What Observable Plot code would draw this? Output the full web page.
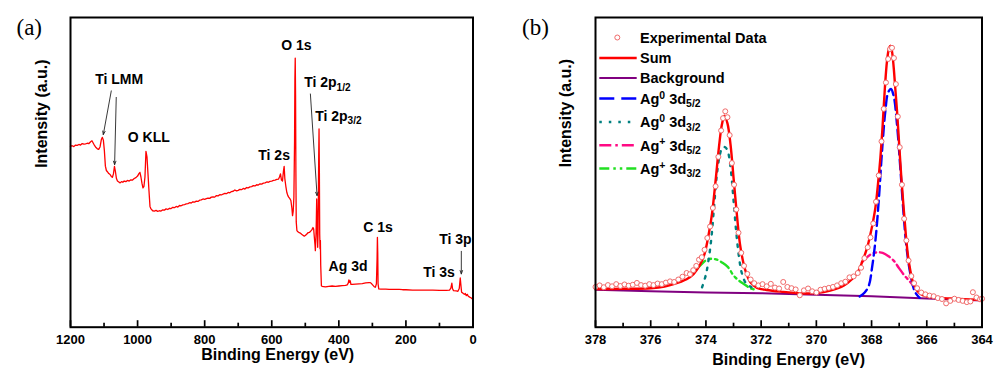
<!DOCTYPE html>
<html>
<head>
<meta charset="utf-8">
<script src="https://cdn.jsdelivr.net/npm/d3@7"></script>
<script src="https://cdn.jsdelivr.net/npm/@observablehq/plot@0.6"></script>
<style>
html, body { margin: 0; padding: 0; background: #fff; }
#wrap { position: relative; width: 1000px; height: 372px; overflow: hidden; }
#wrap > svg { position: absolute; top: 0; }
</style>
</head>
<body>
<div id="wrap"></div>
<script>
// ---------------- Panel (a): XPS survey ----------------
const surveyE = [1200,1195,1190,1185,1180,1175,1170,1165,1160,1155,1150,1145,1140,1136,1132,1128,1124,1120,1116,1112,1108,1105,1102,1099,1096,1093,1090,1086,1082,1078,1075,1072,1069,1066,1063,1060,1056,1052,1048,1044,1040,1035,1030,1025,1020,1015,1010,1005,1000,996,993,990,987,984,981,978,975,972,969,966,963,960,955,950,945,940,935,930,925,920,915,910,905,900,895,890,885,880,875,870,865,860,855,850,845,840,835,830,825,820,815,810,805,800,795,790,785,780,775,770,765,760,755,750,745,740,735,730,725,720,715,710,705,700,695,690,685,680,675,670,665,660,655,650,645,640,635,630,625,620,615,610,605,600,595,590,585,580,577,574,571,568,565,563,561,558,555,552,549,546,543,540,538,536,534,532,531,530,529,528,527,525,522,518,515,511,507,503,500,496,492,488,484,480,477,475,473,471,470,468,467,466,465,464,463,462,461,460,459,458,457,456,455,454,452,450,445,440,435,430,420,410,400,390,380,375,372,370,368,366,364,360,350,340,330,320,310,306,302,298,294,291,288,286,285,284,283,281,275,260,250,240,230,220,210,200,180,160,140,120,100,80,70,66,63,61,58,50,45,41,38,36,34,30,26,23,20,17,14,10,6,3,0];
const surveyI = [58.4,58.6,58.3,58.8,58.7,59.0,58.8,59.3,59.1,59.2,59.4,59.3,59.9,60.2,59.4,58.6,58.0,57.6,57.4,58.2,60.6,61.3,60.4,57.0,52.0,50.6,50.2,49.6,49.3,48.6,48.4,49.5,51.9,50.2,48.0,47.2,46.9,46.6,47.0,46.8,47.2,47.0,47.4,47.2,47.6,47.5,48.0,48.3,48.8,49.6,50.0,48.5,46.5,45.0,45.5,48.5,56.8,55.0,49.5,44.0,39.0,38.2,37.6,37.5,37.7,37.4,37.6,37.5,37.9,37.8,38.2,38.0,38.4,38.3,38.7,38.6,39.0,38.8,39.3,39.2,39.5,39.6,39.8,39.9,40.2,40.1,40.5,40.4,40.7,40.6,41.0,41.1,41.4,41.3,41.5,41.7,41.6,42.0,42.1,42.0,42.5,42.4,42.8,42.7,43.0,43.2,43.1,43.5,43.4,43.8,43.9,44.3,44.0,44.2,44.5,44.4,44.8,44.6,45.1,45.0,45.3,45.4,45.7,45.6,46.0,45.9,46.3,46.2,46.5,46.6,46.9,46.8,47.1,47.2,47.4,47.5,47.7,47.8,48.5,49.5,47.5,47.2,50.5,51.9,48.0,45.5,43.5,42.5,41.9,41.5,40.9,38.5,36.0,37.5,42.0,60.0,80.0,86.9,75.0,50.0,34.0,31.2,30.8,30.5,30.4,30.0,29.7,29.4,29.6,30.0,30.5,30.6,31.0,31.5,32.2,31.7,29.0,26.5,24.7,30.0,35.0,41.4,36.0,30.0,25.8,30.0,42.0,55.0,64.0,50.0,30.0,25.3,28.0,20.0,13.4,13.2,13.1,13.0,13.1,13.2,13.3,13.2,13.3,13.4,13.5,13.7,14.2,15.3,14.5,15.0,13.8,13.8,13.9,14.0,14.1,14.3,14.4,14.4,14.0,13.5,13.0,12.9,14.0,22.0,29.0,24.0,14.0,12.4,12.3,12.3,12.2,12.2,12.2,12.2,12.1,12.1,12.0,12.0,12.0,12.0,11.9,11.9,12.0,12.6,14.2,12.4,11.8,11.7,11.6,12.5,15.9,13.5,11.3,11.0,10.6,10.9,10.2,10.6,10.0,9.7,9.5,9.2,9.1];

const surveyLabels = ["Ti LMM", "O KLL", "Ti 2s", "O 1s", "Ti 2p_{1/2}", "Ti 2p_{3/2}", "Ag 3d", "C 1s", "Ti 3s", "Ti 3p"];
const surveyLabelE = [1055, 966.6, 593, 526.5, 434.1, 401.3, 372.5, 283, 101.3, 52.6];
const surveyLabelI = [79.9, 61.1, 55.4, 90.8, 79.0, 68.1, 19.5, 32.2, 17.5, 28.3];

const arrowFromE = [1078.4, 1063.6, 484.8, 34.8];
const arrowFromI = [76.3, 74.2, 75.3, 24.5];
const arrowToE   = [1102.2, 1068.5, 464.9, 34.8];
const arrowToI   = [62.2, 52.5, 42.5, 17.2];

const ticksA = [1200, 1000, 800, 600, 400, 200, 0];
const minorTicksA = [1100, 900, 700, 500, 300, 100];

// ---------------- Panel (b): Ag 3d ----------------
const expE = [378.0,377.85,377.7,377.55,377.4,377.25,377.1,376.95,376.8,376.65,376.5,376.35,376.2,376.05,375.9,375.75,375.6,375.45,375.3,375.15,375.0,374.85,374.7,374.58,374.46,374.35,374.25,374.15,374.05,373.95,373.85,373.75,373.65,373.55,373.45,373.38,373.3,373.22,373.14,373.06,372.98,372.9,372.82,372.72,372.62,372.5,372.38,372.25,372.1,371.95,371.8,371.65,371.5,371.35,371.2,371.05,370.9,370.75,370.6,370.45,370.3,370.15,370.0,369.85,369.7,369.55,369.4,369.25,369.1,368.95,368.8,368.65,368.5,368.38,368.26,368.14,368.04,367.94,367.84,367.74,367.64,367.56,367.48,367.4,367.33,367.26,367.19,367.12,367.05,366.98,366.9,366.82,366.74,366.66,366.56,366.46,366.35,366.2,366.05,365.9,365.75,365.6,365.45,365.3,365.15,365.0,364.85,364.7,364.55,364.42,364.33,364.2,364.07,364.0];
const expI = [13.0,13.5,12.9,13.6,13.2,13.9,13.3,13.8,13.4,13.7,14.3,13.6,13.4,13.9,13.6,14.1,13.9,14.4,14.8,14.6,15.4,16.3,17.5,17.1,18.4,19.8,21.8,22.6,25.0,28.8,32.5,38.5,45.5,55.0,63.5,67.5,69.7,67.8,62.0,53.0,46.0,38.0,30.5,24.0,19.8,17.2,15.4,14.2,13.5,13.9,13.2,14.0,12.8,12.5,14.6,13.0,12.6,12.2,10.3,11.9,12.5,11.6,11.2,12.1,12.4,12.7,13.0,13.5,14.2,14.7,16.1,16.4,17.5,19.2,22.3,25.8,29.0,33.5,40.5,49.0,60.0,70.5,79.0,86.6,89.8,90.2,86.9,78.5,68.0,58.1,46.0,35.0,28.0,21.5,16.5,14.2,12.6,11.2,10.6,10.2,10.0,9.4,9.1,7.7,8.5,9.2,8.8,8.5,8.1,8.3,11.3,9.6,9.0,9.2];

const sumE = [378,377,376,375.5,375.2,374.7,374.44,374.2,374.05,373.9,373.78,373.65,373.53,373.42,373.33,373.22,373.11,372.99,372.87,372.75,372.57,372.39,372.15,371.8,371.2,370.5,370.0,369.5,369.0,368.7,368.5,368.3,368.15,368.04,367.95,367.86,367.77,367.68,367.6,367.52,367.44,367.37,367.32,367.26,367.2,367.14,367.08,367.0,366.92,366.84,366.76,366.68,366.58,366.48,366.35,366.15,365.87,365.15,364.0];
const sumI = [12.3,12.4,12.6,13.1,13.8,15.5,17.2,20.4,23.7,30.0,36.6,47.3,58.0,65.5,68.3,65.8,59.0,47.3,35.5,25.8,18.3,14.5,12.7,12.0,11.4,10.9,11.0,11.8,13.5,15.6,17.8,22.0,26.0,30.1,34.0,38.7,46.0,54.8,65.0,77.0,86.0,90.0,90.9,89.0,84.0,77.0,70.0,59.0,48.0,38.7,30.0,23.0,17.5,14.0,11.8,10.3,9.7,9.3,8.8];

const bgE = [378, 376, 374, 372, 370, 368, 366, 364];
const bgI = [12.1, 11.6, 11.2, 11.0, 10.5, 10.0, 9.3, 8.6];

const ag0d52E = [368.43,368.25,368.1,367.98,367.86,367.74,367.62,367.5,367.4,367.3,367.2,367.08,366.96,366.84,366.72,366.57,366.42,366.26];
const ag0d52I = [9.9,11.2,13.4,19.4,28.0,40.9,57.0,69.9,75.8,76.9,74.7,65.6,51.6,36.6,24.7,16.1,11.3,9.5];

const ag0d32E = [374.14,374.0,373.9,373.8,373.7,373.6,373.5,373.4,373.3,373.2,373.1,373.0,372.9,372.8,372.7,372.55,372.35];
const ag0d32I = [12.9,17.0,22.0,29.0,39.5,49.5,55.5,58.0,58.1,56.5,51.0,41.0,30.5,22.5,17.5,14.2,12.9];

const agpd52E = [368.35,368.18,368.0,367.85,367.74,367.6,367.4,367.2,367.0,366.8,366.6,366.45,366.3];
const agpd52I = [21.0,22.5,23.7,24.1,24.2,24.0,23.0,21.5,19.0,16.6,14.6,13.0,11.8];

const agpd32E = [374.3,374.26,374.0,373.8,373.6,373.4,373.2,373.0,372.8,372.6,372.4,372.25];
const agpd32I = [19.2,19.4,21.6,22.1,21.8,20.8,19.4,16.7,15.0,13.8,12.6,12.2];

const legendLabels = ["Experimental Data", "Sum", "Background", "Ag^{0} 3d_{5/2}", "Ag^{0} 3d_{3/2}", "Ag^{+} 3d_{5/2}", "Ag^{+} 3d_{3/2}"];

const ticksB = [378, 376, 374, 372, 370, 368, 366, 364];
const minorTicksB = [377, 375, 373, 371, 369, 367, 365];

// ---------------- styles ----------------
const SANS = '"Liberation Sans", Arial, Helvetica, sans-serif';
const SERIF = '"Liberation Serif", "Times New Roman", serif';
const styles = {
  exp: {stroke: "#f06a6a", fill: "#ffffff", r: 2.5, strokeWidth: 1},
  sum: {stroke: "#ff0000", strokeWidth: 2.4},
  bg: {stroke: "#800080", strokeWidth: 2},
  ag0d52: {stroke: "#0000ff", strokeWidth: 2.4, strokeDasharray: "10,5"},
  ag0d32: {stroke: "#008080", strokeWidth: 2.4, strokeDasharray: "2.5,6.5"},
  agpd52: {stroke: "#ff0a84", strokeWidth: 2.4, strokeDasharray: "11,4,2.5,4"},
  agpd32: {stroke: "#22e022", strokeWidth: 2.4, strokeDasharray: "10,4,2.5,4,2.5,4"}
};
const legendDash = ["", "", "", "15,7", "2.5,7", "12,4,2.5,4", "10,4,2.5,4,2.5,4"];

function rows(E, I) { return E.map((e, i) => ({e, v: I[i]})); }

// rich text: Ag^{0} 3d_{5/2}
function richify(root) {
  d3.select(root).selectAll("text").each(function () {
    const t = this.textContent;
    if (!/[_^]\{/.test(t)) return;
    const fs = parseFloat(this.getAttribute("font-size")) || parseFloat(getComputedStyle(this).fontSize) || 14;
    const small = fs * 0.72;
    const subShift = fs * 0.26, supShift = -fs * 0.36;
    const parts = t.split(/([_^]\{[^}]*\})/).filter(p => p.length);
    while (this.firstChild) this.removeChild(this.firstChild);
    let shift = 0;
    for (const p of parts) {
      const m = p.match(/^([_^])\{([^}]*)\}$/);
      const ts = document.createElementNS("http://www.w3.org/2000/svg", "tspan");
      let target = 0;
      if (m) {
        target = m[1] === "_" ? subShift : supShift;
        ts.setAttribute("font-size", small);
        ts.textContent = m[2];
      } else {
        ts.textContent = p;
      }
      const delta = target - shift;
      if (Math.abs(delta) > 1e-6) ts.setAttribute("dy", delta.toFixed(2));
      shift = target;
      this.appendChild(ts);
    }
  });
}

const H = 372, MT = 17, MB = 45.3;
const innerH = H - MT - MB;
// inward ticks: tick marks spanning only the bottom few pixels of the frame
function inwardTicks(major, minor) {
  return [
    Plot.tickX(major, {x: d => d, insetTop: innerH - 6.5, stroke: "#000", strokeWidth: 1.7}),
    Plot.tickX(minor, {x: d => d, insetTop: innerH - 4, stroke: "#000", strokeWidth: 1.7})
  ];
}

const wrap = document.getElementById("wrap");

// ---------------- Plot (a) ----------------
const labelRows = surveyLabels.map((label, i) => ({label, e: surveyLabelE[i], v: surveyLabelI[i]}));
const arrowRows = arrowFromE.map((e, i) => ({e1: e, v1: arrowFromI[i], e2: arrowToE[i], v2: arrowToI[i]}));

const plotA = Plot.plot({
  width: 500, height: H,
  marginLeft: 70, marginRight: 27.5, marginTop: MT, marginBottom: MB,
  style: {fontFamily: SANS, fontWeight: "bold", background: "transparent", overflow: "visible"},
  x: {domain: [1200, 0], label: null},
  y: {domain: [0, 100], axis: null},
  marks: [
    Plot.line(rows(surveyE, surveyI), {x: "e", y: "v", stroke: "#ff0000", strokeWidth: 1.3}),
    Plot.arrow(arrowRows, {x1: "e1", y1: "v1", x2: "e2", y2: "v2", stroke: "#222", strokeWidth: 0.9, headLength: 6, headAngle: 40}),
    Plot.text(labelRows, {x: "e", y: "v", text: "label", fontSize: 14, fontWeight: "bold", fill: "#000"}),
    ...inwardTicks(ticksA, minorTicksA),
    Plot.axisX({ticks: ticksA, tickSize: 0, tickPadding: 8, fontSize: 13, fontWeight: "bold", fill: "#000", tickFormat: d => String(d), label: null}),
    Plot.frame({stroke: "#000", strokeWidth: 2}),
    Plot.text(["Binding Energy (eV)"], {frameAnchor: "bottom", dy: 32.5, dx: 6, fontSize: 16, fontWeight: "bold", fill: "#000"}),
    Plot.text(["Intensity (a.u.)"], {frameAnchor: "left", dx: -29, dy: -4.5, rotate: -90, fontSize: 16, fontWeight: "bold", fill: "#000"}),
    Plot.text(["(a)"], {frameAnchor: "top-left", dx: -54, dy: 1.5, textAnchor: "start", lineAnchor: "top", fontFamily: SERIF, fontWeight: "normal", fontSize: 23, fill: "#000"})
  ]
});
plotA.style.left = "0px";
wrap.appendChild(plotA);
richify(plotA);

// ---------------- Plot (b) ----------------
const plotB = Plot.plot({
  width: 500, height: H,
  marginLeft: 95, marginRight: 18.5, marginTop: MT, marginBottom: MB,
  style: {fontFamily: SANS, fontWeight: "bold", background: "transparent", overflow: "visible"},
  x: {domain: [378, 364], label: null},
  y: {domain: [0, 100], axis: null},
  marks: [
    Plot.line(rows(bgE, bgI), {x: "e", y: "v", ...styles.bg}),
    Plot.line(rows(agpd32E, agpd32I), {x: "e", y: "v", curve: "catmull-rom", ...styles.agpd32}),
    Plot.line(rows(agpd52E, agpd52I), {x: "e", y: "v", curve: "catmull-rom", ...styles.agpd52}),
    Plot.line(rows(ag0d32E, ag0d32I), {x: "e", y: "v", curve: "catmull-rom", ...styles.ag0d32}),
    Plot.line(rows(ag0d52E, ag0d52I), {x: "e", y: "v", curve: "catmull-rom", ...styles.ag0d52}),
    Plot.line(rows(sumE, sumI), {x: "e", y: "v", curve: "catmull-rom", ...styles.sum}),
    Plot.dot(rows(expE, expI), {x: "e", y: "v", ...styles.exp}),
    ...inwardTicks(ticksB, minorTicksB),
    Plot.axisX({ticks: ticksB, tickSize: 0, tickPadding: 8, fontSize: 13, fontWeight: "bold", fill: "#000", tickFormat: d => String(d), label: null}),
    Plot.frame({stroke: "#000", strokeWidth: 2}),
    Plot.text(["Binding Energy (eV)"], {frameAnchor: "bottom", dy: 37.5, fontSize: 16, fontWeight: "bold", fill: "#000"}),
    Plot.text(["Intensity (a.u.)"], {frameAnchor: "left", dx: -30, dy: -5, rotate: -90, fontSize: 16, fontWeight: "bold", fill: "#000"}),
    Plot.text(["(b)"], {frameAnchor: "top-left", dx: -73.5, dy: 1.5, textAnchor: "start", lineAnchor: "top", fontFamily: SERIF, fontWeight: "normal", fontSize: 23, fill: "#000"})
  ]
});
plotB.style.left = "500px";
wrap.appendChild(plotB);

// legend inside panel (b)
const legendKeys = ["exp", "sum", "bg", "ag0d52", "ag0d32", "agpd52", "agpd32"];
const rowY = [37.5, 58, 78, 98.5, 122, 145.3, 168.5];
const lg = d3.select(plotB).append("g")
  .attr("font-family", SANS).attr("font-weight", "bold").attr("font-size", 14.5)
  .attr("fill", "#000").attr("text-anchor", "start");
legendLabels.forEach((lab, i) => {
  const s = styles[legendKeys[i]];
  const y = rowY[i];
  if (legendKeys[i] === "exp") {
    lg.append("circle").attr("cx", 117.3).attr("cy", y).attr("r", s.r)
      .attr("fill", s.fill).attr("stroke", s.stroke).attr("stroke-width", s.strokeWidth);
  } else {
    lg.append("line").attr("x1", 99.3).attr("x2", 136.7).attr("y1", y).attr("y2", y)
      .attr("stroke", s.stroke).attr("stroke-width", s.strokeWidth)
      .attr("stroke-dasharray", legendDash[i] || null);
  }
  lg.append("text").attr("x", 140).attr("y", y).attr("dy", "0.36em")
    .attr("text-anchor", "start").attr("font-size", 14.5).text(lab);
});
richify(plotB);
</script>
</body>
</html>
